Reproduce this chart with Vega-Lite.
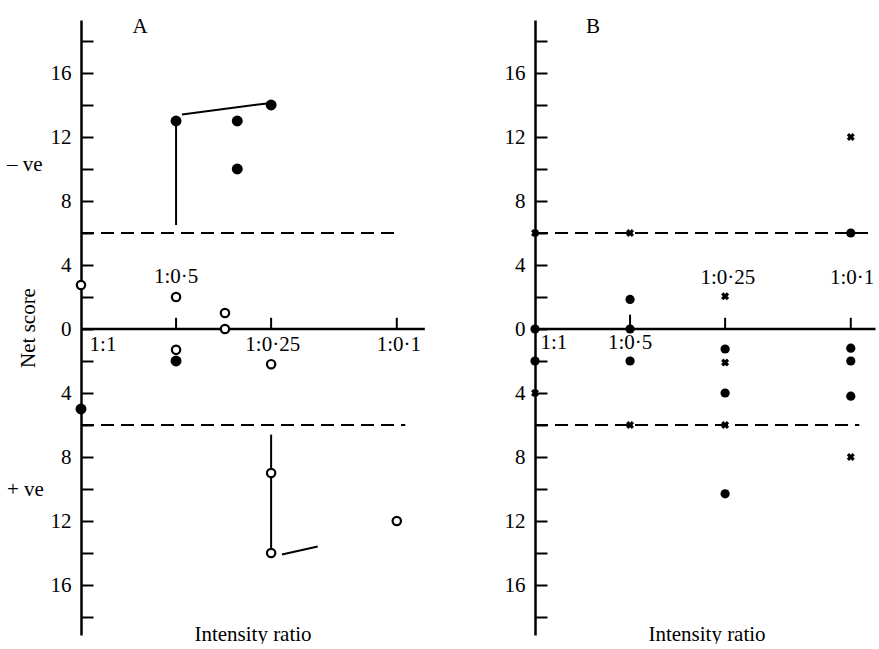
{
  "$schema": "https://vega.github.io/schema/vega-lite/v6.json",
  "padding": {"top": 15, "left": 7, "right": 0, "bottom": 0},
  "background": "white",
  "config": {
    "view": {"stroke": null},
    "font": "Liberation Serif",
    "axis": {"grid": false}
  },
  "datasets": {
    "pts": [
      {"panel": "A", "r": 0.5, "s": 13, "kind": "filled"},
      {"panel": "A", "r": 0.32, "s": 13, "kind": "filled"},
      {"panel": "A", "r": 0.32, "s": 10, "kind": "filled"},
      {"panel": "A", "r": 0.25, "s": 14, "kind": "filled"},
      {"panel": "A", "r": 0.5, "s": -2, "kind": "filled"},
      {"panel": "A", "r": 1, "s": -5, "kind": "filled"},
      {"panel": "A", "r": 1, "s": 2.75, "kind": "open"},
      {"panel": "A", "r": 0.5, "s": 2, "kind": "open"},
      {"panel": "A", "r": 0.35, "s": 1, "kind": "open"},
      {"panel": "A", "r": 0.35, "s": 0, "kind": "open"},
      {"panel": "A", "r": 0.5, "s": -1.3, "kind": "open"},
      {"panel": "A", "r": 0.25, "s": -2.2, "kind": "open"},
      {"panel": "A", "r": 0.25, "s": -9, "kind": "open"},
      {"panel": "A", "r": 0.25, "s": -14, "kind": "open"},
      {"panel": "A", "r": 0.1, "s": -12, "kind": "open"},
      {"panel": "B", "r": 1, "s": 0, "kind": "filled"},
      {"panel": "B", "r": 0.5, "s": 0, "kind": "filled"},
      {"panel": "B", "r": 0.5, "s": 1.85, "kind": "filled"},
      {"panel": "B", "r": 0.1, "s": 6, "kind": "filled"},
      {"panel": "B", "r": 1, "s": -2, "kind": "filled"},
      {"panel": "B", "r": 0.25, "s": -1.25, "kind": "filled"},
      {"panel": "B", "r": 0.25, "s": -4, "kind": "filled"},
      {"panel": "B", "r": 0.25, "s": -10.3, "kind": "filled"},
      {"panel": "B", "r": 0.1, "s": -1.2, "kind": "filled"},
      {"panel": "B", "r": 0.1, "s": -4.2, "kind": "filled"},
      {"panel": "B", "r": 0.5, "s": -2, "kind": "filled"},
      {"panel": "B", "r": 0.1, "s": -2, "kind": "filled"},
      {"panel": "B", "r": 1, "s": 6, "kind": "cross"},
      {"panel": "B", "r": 0.5, "s": 6, "kind": "cross"},
      {"panel": "B", "r": 0.25, "s": 2.05, "kind": "cross"},
      {"panel": "B", "r": 0.1, "s": 12, "kind": "cross"},
      {"panel": "B", "r": 1, "s": -4, "kind": "cross"},
      {"panel": "B", "r": 0.5, "s": -2, "kind": "cross"},
      {"panel": "B", "r": 0.5, "s": -6, "kind": "cross"},
      {"panel": "B", "r": 0.25, "s": -2.1, "kind": "cross"},
      {"panel": "B", "r": 0.25, "s": -6, "kind": "cross"},
      {"panel": "B", "r": 0.1, "s": -2, "kind": "cross"},
      {"panel": "B", "r": 0.1, "s": -8, "kind": "cross"}
    ],
    "segs": [
      {"panel": "A", "r": 0.5, "s": 13, "r2": 0.5, "s2": 6.5},
      {"panel": "A", "r": 0.479, "s": 13.4, "r2": 0.258, "s2": 14.1},
      {"panel": "A", "r": 0.25, "s": -6.6, "r2": 0.25, "s2": -14},
      {"panel": "A", "r": 0.231, "s": -14.1, "r2": 0.178, "s2": -13.6}
    ],
    "dash": [
      {"panel": "A", "r": 1, "r2": 0.098, "s": 6},
      {"panel": "A", "r": 1, "r2": 0.094, "s": -6},
      {"panel": "B", "r": 1, "r2": 0.087, "s": 6},
      {"panel": "B", "r": 1, "r2": 0.094, "s": -6}
    ],
    "xline": [
      {"panel": "A", "r": 1, "r2": 0.0815, "s": 0},
      {"panel": "B", "r": 1, "r2": 0.0835, "s": 0}
    ],
    "xticks": [
      {"panel": "A", "r": 0.5, "s": 0, "s2": 0.7},
      {"panel": "A", "r": 0.25, "s": 0, "s2": 0.7},
      {"panel": "A", "r": 0.1, "s": 0, "s2": 0.7},
      {"panel": "B", "r": 0.5, "s": 0, "s2": 0.9},
      {"panel": "B", "r": 0.25, "s": 0, "s2": 0.7},
      {"panel": "B", "r": 0.1, "s": 0, "s2": 0.7}
    ],
    "labels": [
      {"panel": "A", "r": 0.65, "s": 18.9, "text": "A"},
      {"panel": "A", "r": 0.5, "s": 3.25, "text": "1:0·5"},
      {"panel": "A", "r": 0.852, "s": -1.0, "text": "1:1"},
      {"panel": "A", "r": 0.247, "s": -1.0, "text": "1:0·25"},
      {"panel": "A", "r": 0.0985, "s": -1.0, "text": "1:0·1"},
      {"panel": "B", "r": 0.655, "s": 18.9, "text": "B"},
      {"panel": "B", "r": 0.871, "s": -0.9, "text": "1:1"},
      {"panel": "B", "r": 0.5, "s": -0.9, "text": "1:0·5"},
      {"panel": "B", "r": 0.245, "s": 3.2, "text": "1:0·25"},
      {"panel": "B", "r": 0.099, "s": 3.2, "text": "1:0·1"}
    ],
    "signs": [
      {"panel": "A", "r": 1, "s": 10.25, "text": "– ve"},
      {"panel": "A", "r": 1, "s": -10.06, "text": "+ ve"}
    ]
  },
  "spacing": 111,
  "bounds": "flush",
  "hconcat": [
    {
      "width": 343,
      "height": 615,
      "encoding": {
        "x": {"field": "r", "type": "quantitative", "scale": {"type": "log", "domain": [0.082, 1], "reverse": true, "nice": false}, "axis": {"title": "Intensity ratio", "domain": false, "ticks": false, "labels": false, "titleFontSize": 21, "titleFontWeight": "normal", "titleColor": "black", "titlePadding": -12, "titleFont": "Liberation Serif"}},
        "y": {"field": "s", "type": "quantitative", "scale": {"domain": [-19.125, 19.3125], "nice": false, "zero": false}, "axis": {"title": "Net score", "values": [-18, -16, -14, -12, -10, -8, -6, -4, -2, 0, 2, 4, 6, 8, 10, 12, 14, 16, 18], "labelExpr": "datum.value % 4 == 0 ? format(abs(datum.value), 'd') : ''", "tickSize": -12, "tickWidth": 2, "tickColor": "black", "domainColor": "black", "domainWidth": 2.5, "labelPadding": 22, "labelFontSize": 21, "labelColor": "black", "labelFont": "Liberation Serif", "titleFontSize": 21, "titleFontWeight": "normal", "titleColor": "black", "titleFont": "Liberation Serif", "titlePadding": 12}}
      },
      "layer": [
        {
          "data": {"name": "xline"},
          "transform": [{"filter": "datum.panel == 'A'"}],
          "mark": {"type": "rule", "strokeWidth": 2.5, "color": "black"},
          "encoding": {"x2": {"field": "r2"}}
        },
        {
          "data": {"name": "xticks"},
          "transform": [{"filter": "datum.panel == 'A'"}],
          "mark": {"type": "rule", "strokeWidth": 2, "color": "black"},
          "encoding": {"y2": {"field": "s2"}}
        },
        {
          "data": {"name": "dash"},
          "transform": [{"filter": "datum.panel == 'A'"}],
          "mark": {"type": "rule", "strokeWidth": 2, "color": "black", "strokeDash": [13, 7]},
          "encoding": {"x2": {"field": "r2"}}
        },
        {
          "data": {"name": "segs"},
          "transform": [{"filter": "datum.panel == 'A'"}],
          "mark": {"type": "rule", "strokeWidth": 2, "color": "black"},
          "encoding": {"x2": {"field": "r2"}, "y2": {"field": "s2"}}
        },
        {
          "data": {"name": "pts"},
          "transform": [{"filter": "datum.panel == 'A' && datum.kind == 'open'"}],
          "mark": {"type": "point", "shape": "circle", "filled": false, "stroke": "black", "fill": "white", "fillOpacity": 1, "strokeWidth": 2.2, "size": 70, "opacity": 1},
          "encoding": {}
        },
        {
          "data": {"name": "pts"},
          "transform": [{"filter": "datum.panel == 'A' && datum.kind == 'filled'"}],
          "mark": {"type": "point", "shape": "circle", "filled": true, "color": "black", "size": 120, "opacity": 1},
          "encoding": {}
        },
        {
          "data": {"name": "labels"},
          "transform": [{"filter": "datum.panel == 'A'"}],
          "mark": {"type": "text", "fontSize": 21, "baseline": "middle", "align": "center", "color": "black", "font": "Liberation Serif"},
          "encoding": {"text": {"field": "text"}}
        },
        {
          "data": {"name": "signs"},
          "mark": {"type": "text", "fontSize": 21, "baseline": "middle", "align": "left", "dx": -74, "color": "black", "font": "Liberation Serif"},
          "encoding": {"text": {"field": "text"}}
        }
      ]
    },
    {
      "width": 343,
      "height": 615,
      "encoding": {
        "x": {"field": "r", "type": "quantitative", "scale": {"type": "log", "domain": [0.082, 1], "reverse": true, "nice": false}, "axis": {"title": "Intensity ratio", "domain": false, "ticks": false, "labels": false, "titleFontSize": 21, "titleFontWeight": "normal", "titleColor": "black", "titlePadding": -12, "titleFont": "Liberation Serif"}},
        "y": {"field": "s", "type": "quantitative", "scale": {"domain": [-19.125, 19.3125], "nice": false, "zero": false}, "axis": {"title": null, "values": [-18, -16, -14, -12, -10, -8, -6, -4, -2, 0, 2, 4, 6, 8, 10, 12, 14, 16, 18], "labelExpr": "datum.value % 4 == 0 ? format(abs(datum.value), 'd') : ''", "tickSize": -12, "tickWidth": 2, "tickColor": "black", "domainColor": "black", "domainWidth": 2.5, "labelPadding": 22, "labelFontSize": 21, "labelColor": "black", "labelFont": "Liberation Serif"}}
      },
      "layer": [
        {
          "data": {"name": "xline"},
          "transform": [{"filter": "datum.panel == 'B'"}],
          "mark": {"type": "rule", "strokeWidth": 2.5, "color": "black"},
          "encoding": {"x2": {"field": "r2"}}
        },
        {
          "data": {"name": "xticks"},
          "transform": [{"filter": "datum.panel == 'B'"}],
          "mark": {"type": "rule", "strokeWidth": 2, "color": "black"},
          "encoding": {"y2": {"field": "s2"}}
        },
        {
          "data": {"name": "dash"},
          "transform": [{"filter": "datum.panel == 'B'"}],
          "mark": {"type": "rule", "strokeWidth": 2, "color": "black", "strokeDash": [13, 7]},
          "encoding": {"x2": {"field": "r2"}}
        },
        {
          "data": {"name": "pts"},
          "transform": [{"filter": "datum.panel == 'B' && datum.kind == 'filled'"}],
          "mark": {"type": "point", "shape": "circle", "filled": true, "color": "black", "size": 85, "opacity": 1},
          "encoding": {}
        },
        {
          "data": {"name": "pts"},
          "transform": [{"filter": "datum.panel == 'B' && datum.kind == 'cross'"}],
          "mark": {"type": "point", "shape": "cross", "angle": 45, "filled": true, "color": "black", "size": 65, "opacity": 1},
          "encoding": {}
        },
        {
          "data": {"name": "labels"},
          "transform": [{"filter": "datum.panel == 'B'"}],
          "mark": {"type": "text", "fontSize": 21, "baseline": "middle", "align": "center", "color": "black", "font": "Liberation Serif"},
          "encoding": {"text": {"field": "text"}}
        }
      ]
    }
  ]
}
